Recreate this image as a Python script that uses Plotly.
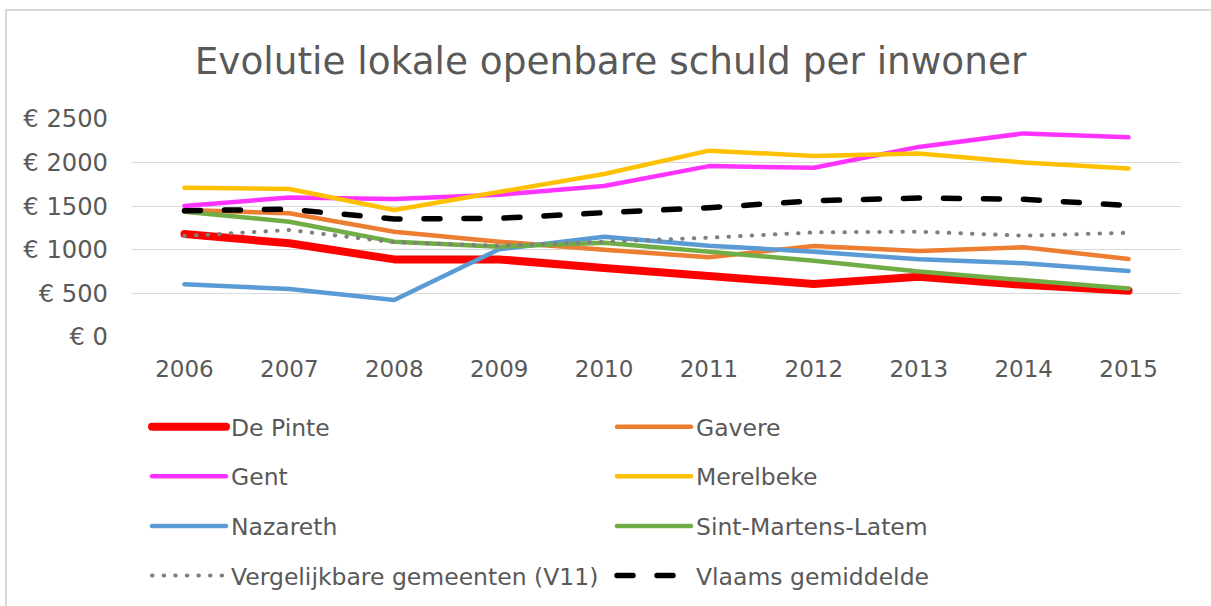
import plotly.graph_objects as go

years = ["2006", "2007", "2008", "2009", "2010", "2011", "2012", "2013", "2014", "2015"]

de_pinte = [1180, 1075, 890, 890, 790, 695, 608, 690, 598, 530]
gavere = [1455, 1420, 1208, 1093, 1000, 915, 1044, 986, 1030, 895]
gent = [1503, 1600, 1583, 1630, 1732, 1960, 1940, 2180, 2335, 2290]
merelbeke = [1713, 1698, 1457, 1660, 1870, 2137, 2076, 2105, 2000, 1932]
nazareth = [604, 551, 424, 1006, 1150, 1047, 978, 891, 845, 757]
sint_martens_latem = [1437, 1322, 1093, 1036, 1082, 978, 875, 750, 648, 555]
vergelijkbare_v11 = [1158, 1227, 1086, 1047, 1093, 1139, 1200, 1208, 1162, 1196]
vlaams_gemiddelde = [1449, 1465, 1353, 1361, 1426, 1483, 1562, 1594, 1579, 1508]

series = [
    ("De Pinte", de_pinte, "#FF0000", 8, "solid", "legend"),
    ("Gavere", gavere, "#ED7D31", 4.5, "solid", "legend2"),
    ("Gent", gent, "#FF33FF", 4.5, "solid", "legend"),
    ("Merelbeke", merelbeke, "#FFC000", 4.5, "solid", "legend2"),
    ("Nazareth", nazareth, "#5B9BD5", 4.5, "solid", "legend"),
    ("Sint-Martens-Latem", sint_martens_latem, "#70AD47", 4.5, "solid", "legend2"),
    ("Vergelijkbare gemeenten (V11)", vergelijkbare_v11, "#7F7F7F", 4, "0.5px,11.1px", "legend"),
    ("Vlaams gemiddelde", vlaams_gemiddelde, "#000000", 5.5, "16px,24px", "legend2"),
]

FONT = "DejaVu Sans"
GREY = "#595959"

fig = go.Figure()
for name, vals, color, width, dash, leg in series:
    fig.add_trace(go.Scatter(
        x=years, y=vals, name=name, mode="lines",
        line=dict(color=color, width=width, dash=dash),
        legend=leg, legendgroup=name,
    ))

fig.update_layout(
    width=1211, height=606,
    paper_bgcolor="white", plot_bgcolor="white",
    margin=dict(l=132, r=30, t=119, b=269, autoexpand=False),
    font=dict(family=FONT, color=GREY, size=23.5),
    title=dict(text="Evolutie lokale openbare schuld per inwoner",
               x=610.5 / 1211, xanchor="center", y=1 - 61 / 606, yanchor="middle",
               font=dict(size=37.4, color=GREY, family=FONT)),
    xaxis=dict(type="category", range=[-0.5, 9.5], showgrid=False, showline=False,
               zeroline=False, tickfont=dict(size=23, color=GREY), ticks="",
               ticklabelstandoff=16),
    yaxis=dict(range=[0, 2500], dtick=500, tickprefix="€ ", tickformat="d",
               showgrid=True, gridcolor="#D9D9D9", gridwidth=1.3,
               zeroline=False, showline=False, ticks="",
               tickfont=dict(size=24.2, color=GREY), ticklabelstandoff=23),
    legend=dict(xref="container", yref="container", x=147 / 1211, y=1 - 405 / 606,
                xanchor="left", yanchor="top", orientation="v",
                itemwidth=74, tracegroupgap=16, font=dict(size=23.5, color=GREY),
                bgcolor="rgba(0,0,0,0)"),
    legend2=dict(xref="container", yref="container", x=612 / 1211, y=1 - 405 / 606,
                 xanchor="left", yanchor="top", orientation="v",
                 itemwidth=74, tracegroupgap=16, font=dict(size=23.5, color=GREY),
                 bgcolor="rgba(0,0,0,0)"),
    shapes=[dict(type="rect", xref="paper", yref="paper",
                 x0=(6 - 132) / 1049, x1=(1300 - 132) / 1049,
                 y0=(337 - 700) / 218, y1=(337 - 10) / 218,
                 line=dict(color="#D9D9D9", width=2), layer="below")],
)

post = """
document.body.style.margin = '0';
document.querySelectorAll('path.js-line').forEach(function(p) {
  p.style.strokeLinecap = 'round';
  p.style.strokeLinejoin = 'round';
});
"""

fig.write_html("out.html", post_script=post, config={"displayModeBar": False})
